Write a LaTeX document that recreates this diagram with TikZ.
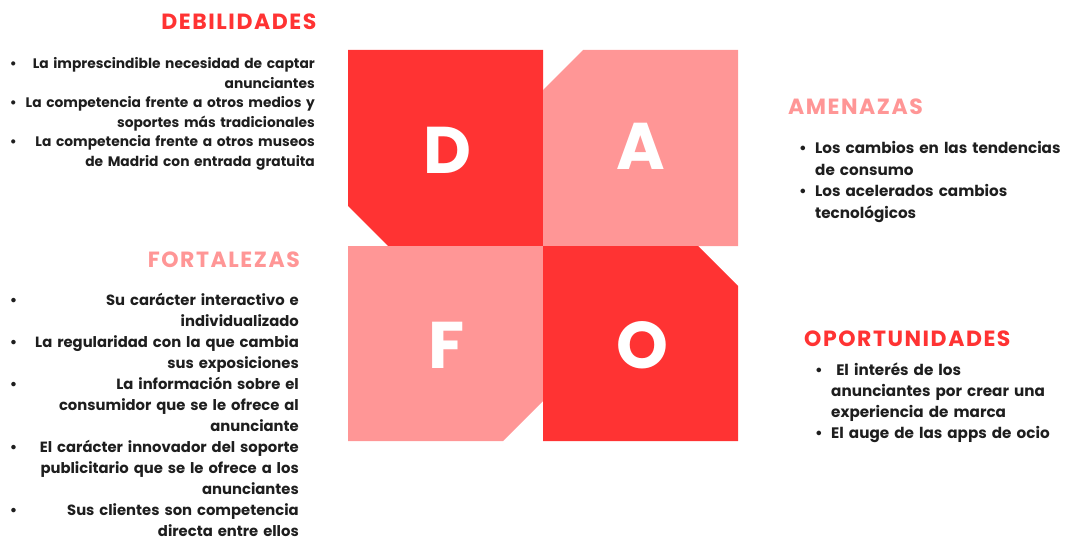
\documentclass[tikz,border=0pt]{standalone}
\usepackage{fontspec}
\setmainfont{Poppins}

\definecolor{dafored}{HTML}{FF3333}
\definecolor{dafopink}{HTML}{FF9696}
\definecolor{dafotext}{HTML}{1E1E1E}

\newlength{\dafoindent}
\setlength{\dafoindent}{16pt}
\newcommand{\dafobul}{\makebox[\dafoindent][l]{\textbullet}}
\newcommand{\dafogap}{\hspace*{\dafoindent}}

\tikzset{
  letter/.style={text=white, inner sep=0pt, font=\fontsize{66}{66}\selectfont\bfseries},
  heading/.style={inner sep=0pt, font=\fontsize{22}{22}\selectfont\bfseries\addfontfeature{LetterSpace=7}},
  listtext/.style={inner sep=0pt, text=dafotext},
}

\begin{document}
\begin{tikzpicture}[x=1pt, y=-1pt]

                \useasboundingbox (0,0) rectangle (1068,540);

                % Draw the four squares
                \fill[dafored] (348,50) -- (543,50) -- (543,246) -- (388,246) -- (348,206) -- cycle;
                \fill[dafopink] (583,50) -- (738,50) -- (738,246) -- (543,246) -- (543,90) -- cycle;
                \fill[dafopink] (348,246) -- (543,246) -- (543,401) -- (503,441) -- (348,441) -- cycle;
                \fill[dafored] (543,246) -- (698,246) -- (738,286) -- (738,441) -- (543,441) -- cycle;

                % Letters
                \node[letter] (d) at (447,150) {D};
                \node[letter] (a) at (641,146) {A};
                \node[letter] (f) at (447,345) {F};
                \node[letter] (o) at (642,345) {O};

                % Debilidades
                \node[heading, text=dafored, anchor=base east] (deb) at (316.5,30) {DEBILIDADES};
                \node[listtext, font=\fontsize{13.8}{19.5}\selectfont\bfseries,
                    text width=305pt, align=right, anchor=base east] (deblist) at (315,69)
                {\textbullet\hspace{\fill}La imprescindible necesidad de captar\\
                 anunciantes\\
                 \textbullet\hspace{\fill}La competencia frente a otros medios y\\
                 soportes más tradicionales\\
                 \textbullet\hspace{\fill}La competencia frente a otros museos\\
                 de Madrid con entrada gratuita};

                % Fortalezas
                \node[heading, text=dafopink, anchor=base east] (fort) at (300,267) {FORTALEZAS};
                \node[listtext, font=\fontsize{14.8}{21}\selectfont\bfseries,
                    text width=289pt, align=right, anchor=base east] (fortlist) at (299,305)
                {\textbullet\hspace{\fill}Su carácter interactivo e\\
                 individualizado\\
                 \textbullet\hspace{\fill}La regularidad con la que cambia\\
                 sus exposiciones\\
                 \textbullet\hspace{\fill}La información sobre el\\
                 consumidor que se le ofrece al\\
                 anunciante\\
                 \textbullet\hspace{\fill}El carácter innovador del soporte\\
                 publicitario que se le ofrece a los\\
                 anunciantes\\
                 \textbullet\hspace{\fill}Sus clientes son competencia\\
                 directa entre ellos};

                % Amenazas
                \node[heading, text=dafopink, anchor=base west] (amen) at (788,115) {AMENAZAS};
                \node[listtext, font=\fontsize{15.2}{21.5}\selectfont\bfseries,
                    text width=265pt, align=left, anchor=base west] (amenlist) at (799,154)
                {\dafobul Los cambios en las tendencias\\
                 \dafogap de consumo\\
                 \dafobul Los acelerados cambios\\
                 \dafogap tecnológicos};

                % Oportunidades
                \node[heading, text=dafored, anchor=base west] (opor) at (804,346) {OPORTUNIDADES};
                \node[listtext, font=\fontsize{15.2}{21}\selectfont\bfseries,
                    text width=250pt, align=left, anchor=base west] (oporlist) at (815,375)
                {\dafobul\ El interés de los\\
                 \dafogap anunciantes por crear una\\
                 \dafogap experiencia de marca\\
                 \dafobul El auge de las apps de ocio};

\end{tikzpicture}
\end{document}
